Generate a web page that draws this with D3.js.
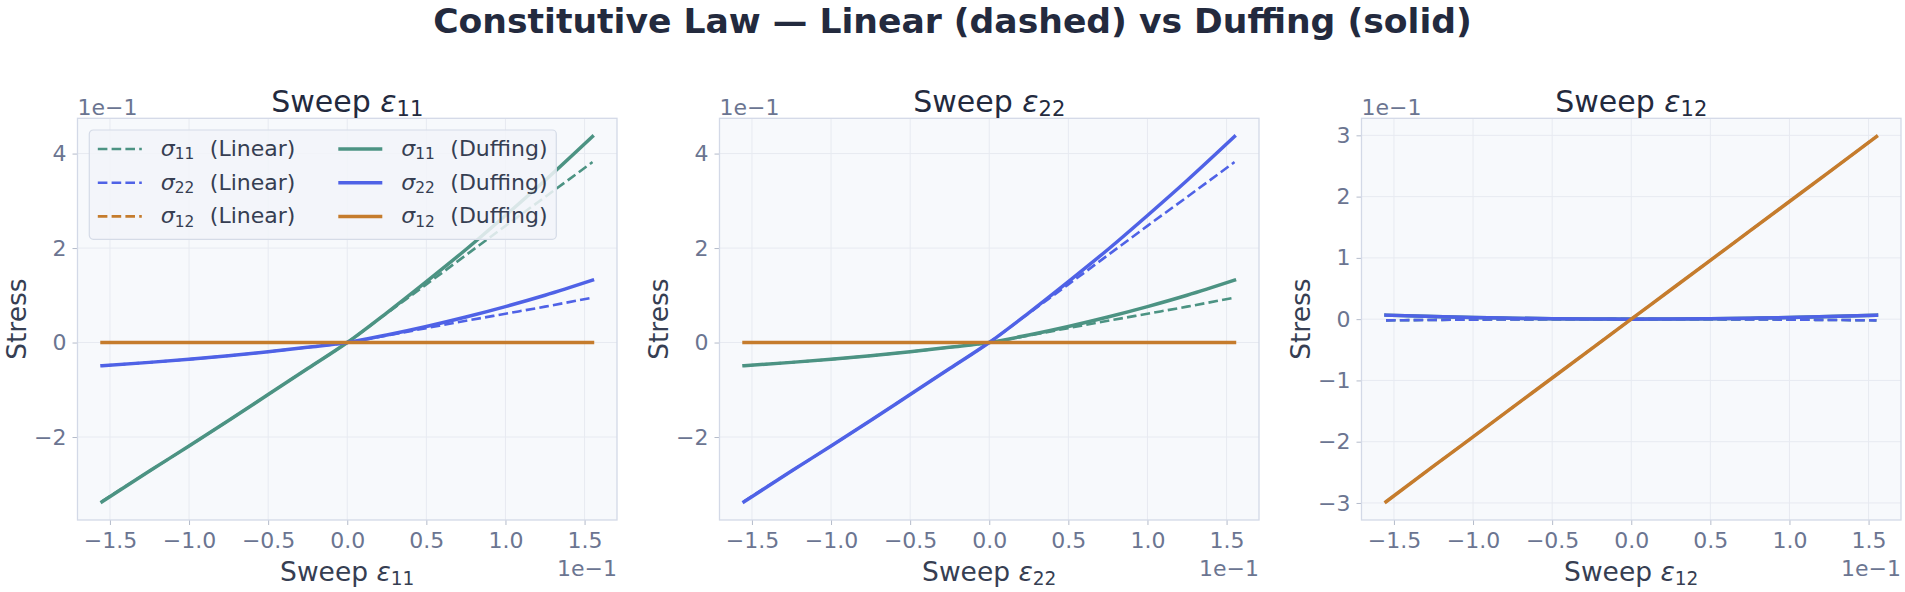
<!DOCTYPE html>
<html>
<head>
<meta charset="utf-8">
<script src="https://cdn.jsdelivr.net/npm/d3@7"></script>
<style>
    body { margin: 0; background: #ffffff; }
    svg text { font-family: "DejaVu Sans", sans-serif; }
</style>
</head>
<body>
<div id="chart"></div>
<script>
// strain samples along each sweep (x1e-1)
const strainPts = [-1.55, -1.25, -1.0, -0.75, -0.5, -0.25, 0, 0.25, 0.5, 0.75, 1.0, 1.25, 1.55];

// sweep eps11 : stresses (x1e-1)
const e11_s11Lin = [-3.36, -2.72, -2.19, -1.65, -1.10, -0.55, 0, 0.62, 1.23, 1.85, 2.47, 3.08, 3.82];
const e11_s22Lin = [-0.49, -0.42, -0.355, -0.28, -0.195, -0.10, 0, 0.15, 0.305, 0.46, 0.61, 0.76, 0.95];
const e11_s12Lin = [0, 0, 0, 0, 0, 0, 0, 0, 0, 0, 0, 0, 0];
const e11_s11Duf = [-3.37, -2.72, -2.19, -1.65, -1.10, -0.55, 0, 0.63, 1.29, 1.97, 2.69, 3.43, 4.36];
const e11_s22Duf = [-0.49, -0.42, -0.355, -0.28, -0.195, -0.10, 0, 0.16, 0.34, 0.54, 0.76, 1.00, 1.32];
const e11_s12Duf = [0, 0, 0, 0, 0, 0, 0, 0, 0, 0, 0, 0, 0];

// sweep eps22
const e22_s11Lin = [-0.49, -0.42, -0.355, -0.28, -0.195, -0.10, 0, 0.15, 0.305, 0.46, 0.61, 0.76, 0.95];
const e22_s22Lin = [-3.36, -2.72, -2.19, -1.65, -1.10, -0.55, 0, 0.62, 1.23, 1.85, 2.47, 3.08, 3.82];
const e22_s12Lin = [0, 0, 0, 0, 0, 0, 0, 0, 0, 0, 0, 0, 0];
const e22_s11Duf = [-0.49, -0.42, -0.355, -0.28, -0.195, -0.10, 0, 0.16, 0.34, 0.54, 0.76, 1.00, 1.32];
const e22_s22Duf = [-3.37, -2.72, -2.19, -1.65, -1.10, -0.55, 0, 0.63, 1.29, 1.97, 2.69, 3.43, 4.36];
const e22_s12Duf = [0, 0, 0, 0, 0, 0, 0, 0, 0, 0, 0, 0, 0];

// sweep eps12
const e12_s11Lin = [-0.02, -0.013, -0.008, -0.005, -0.002, -0.001, 0, -0.001, -0.002, -0.005, -0.008, -0.013, -0.02];
const e12_s22Lin = [-0.02, -0.013, -0.008, -0.005, -0.002, -0.001, 0, -0.001, -0.002, -0.005, -0.008, -0.013, -0.02];
const e12_s12Lin = [-2.98, -2.40, -1.92, -1.44, -0.96, -0.48, 0, 0.48, 0.96, 1.44, 1.92, 2.40, 2.98];
const e12_s11Duf = [0.065, 0.042, 0.027, 0.015, 0.007, 0.002, 0, 0.002, 0.007, 0.015, 0.027, 0.042, 0.065];
const e12_s22Duf = [0.065, 0.042, 0.027, 0.015, 0.007, 0.002, 0, 0.002, 0.007, 0.015, 0.027, 0.042, 0.065];
const e12_s12Duf = [-2.98, -2.40, -1.92, -1.44, -0.96, -0.48, 0, 0.48, 0.96, 1.44, 1.92, 2.40, 2.98];

// ticks
const xTicks = [-1.5, -1.0, -0.5, 0.0, 0.5, 1.0, 1.5];
const yTicksNormal = [-2, 0, 2, 4];
const yTicksShear = [-3, -2, -1, 0, 1, 2, 3];

// series names / sweep names
const comps = ['11', '22', '12'];
const models = ['Linear', 'Duffing'];
const sweeps = ['11', '22', '12'];

const colors = {'11': '#4c9383', '22': '#4f62e6', '12': '#c57c2d'};

const W = 1905, H = 592;
const plotTop = 118.3, plotBottom = 520, plotW = 539.5;
const panelLefts = [77.5, 719.5, 1361.5];

const lwSolid = 3.5, lwDash = 2.6;
const dashPat = '9.6,4.2';

const svg = d3.select('#chart').append('svg')
    .attr('width', W)
    .attr('height', H);

// main title
svg.append('text')
    .attr('x', W / 2)
    .attr('y', 33)
    .attr('text-anchor', 'middle')
    .style('font-size', '34.6px')
    .style('font-weight', 'bold')
    .style('fill', '#232a3e')
    .text('Constitutive Law \u2014 Linear (dashed) vs Duffing (solid)');

// text with italic symbol + subscript
function mathText(sel, before, sym, sub, size) {
    if (before) sel.append('tspan').text(before);
    sel.append('tspan').style('font-style', 'italic').text(sym);
    sel.append('tspan')
        .style('font-size', (size * 0.7) + 'px')
        .attr('dy', size * 0.15)
        .text(sub);
}

class SweepPanel {
    constructor(parent, left, sweep, series, yTicks, showLegend) {
        this.parent = parent;
        this.left = left;
        this.sweep = sweep;
        this.series = series; // [{comp, model, values}]
        this.yTicks = yTicks;
        this.showLegend = showLegend;

        this.initVis();
    }

    initVis() {
        let vis = this;

        vis.width = plotW;
        vis.height = plotBottom - plotTop;

        vis.g = vis.parent.append('g')
            .attr('transform', `translate(${vis.left}, ${plotTop})`);

        // scales with 5% padding like matplotlib
        let xExt = d3.extent(strainPts);
        let xPad = (xExt[1] - xExt[0]) * 0.05;
        vis.x = d3.scaleLinear()
            .domain([xExt[0] - xPad, xExt[1] + xPad])
            .range([0, vis.width]);

        let yExt = d3.extent(vis.series.flatMap(s => s.values));
        let yPad = (yExt[1] - yExt[0]) * 0.05;
        vis.y = d3.scaleLinear()
            .domain([yExt[0] - yPad, yExt[1] + yPad])
            .range([vis.height, 0]);

        // background
        vis.g.append('rect')
            .attr('width', vis.width)
            .attr('height', vis.height)
            .style('fill', '#f7f9fc');

        // grid
        vis.g.selectAll('.vgrid')
            .data(xTicks)
            .enter().append('line')
            .attr('class', 'vgrid')
            .attr('x1', d => vis.x(d)).attr('x2', d => vis.x(d))
            .attr('y1', 0).attr('y2', vis.height)
            .style('stroke', '#e7eaf1')
            .style('stroke-width', 1);

        vis.g.selectAll('.hgrid')
            .data(vis.yTicks)
            .enter().append('line')
            .attr('class', 'hgrid')
            .attr('x1', 0).attr('x2', vis.width)
            .attr('y1', d => vis.y(d)).attr('y2', d => vis.y(d))
            .style('stroke', '#e7eaf1')
            .style('stroke-width', 1);

        // axes
        vis.xAxis = d3.axisBottom(vis.x)
            .tickValues(xTicks)
            .tickSize(5)
            .tickPadding(7.5)
            .tickFormat(d3.format('.1f'));

        vis.yAxis = d3.axisLeft(vis.y)
            .tickValues(vis.yTicks)
            .tickSize(5)
            .tickPadding(6)
            .tickFormat(d3.format('d'));

        vis.g.append('g')
            .attr('class', 'x-axis')
            .attr('transform', `translate(0, ${vis.height})`)
            .call(vis.xAxis);

        vis.g.append('g')
            .attr('class', 'y-axis')
            .call(vis.yAxis);

        vis.g.selectAll('.x-axis, .y-axis').select('.domain').remove();
        vis.g.selectAll('.tick line').style('stroke', '#b4bbca');
        vis.g.selectAll('.tick text')
            .style('font-size', '22px')
            .style('font-family', '"DejaVu Sans", sans-serif')
            .style('fill', '#6b7591');

        // lines layer
        vis.lineG = vis.g.append('g');

        // spines
        vis.g.append('rect')
            .attr('width', vis.width)
            .attr('height', vis.height)
            .style('fill', 'none')
            .style('stroke', '#d3d9e7')
            .style('stroke-width', 1.3);

        // subplot title
        let title = vis.g.append('text')
            .attr('x', vis.width / 2)
            .attr('y', 111.7 - plotTop)
            .attr('text-anchor', 'middle')
            .style('font-size', '30px')
            .style('fill', '#232a3e');
        mathText(title, 'Sweep ', '\u03b5', vis.sweep, 30);

        // x label
        let xl = vis.g.append('text')
            .attr('x', vis.width / 2)
            .attr('y', 581 - plotTop)
            .attr('text-anchor', 'middle')
            .style('font-size', '26.5px')
            .style('fill', '#363e52');
        mathText(xl, 'Sweep ', '\u03b5', vis.sweep, 26.5);

        // y label
        vis.g.append('text')
            .attr('transform', `translate(-51.5, ${vis.height / 2}) rotate(-90)`)
            .attr('text-anchor', 'middle')
            .style('font-size', '26.5px')
            .style('fill', '#363e52')
            .text('Stress');

        // offset texts
        vis.g.append('text')
            .attr('x', 0)
            .attr('y', 115 - plotTop)
            .style('font-size', '22px')
            .style('fill', '#6b7591')
            .text('1e\u22121');

        vis.g.append('text')
            .attr('x', vis.width)
            .attr('y', 576 - plotTop)
            .attr('text-anchor', 'end')
            .style('font-size', '22px')
            .style('fill', '#6b7591')
            .text('1e\u22121');

        vis.updateVis();
    }

    updateVis() {
        let vis = this;

        let line = d3.line()
            .x((d, i) => vis.x(strainPts[i]))
            .y(d => vis.y(d))
            .curve(d3.curveMonotoneX);

        vis.lineG.selectAll('.stress-line')
            .data(vis.series)
            .enter().append('path')
            .attr('class', 'stress-line')
            .attr('d', d => line(d.values))
            .style('fill', 'none')
            .style('stroke', d => colors[d.comp])
            .style('stroke-width', d => d.model == 'Linear' ? lwDash : lwSolid)
            .style('stroke-dasharray', d => d.model == 'Linear' ? dashPat : null)
            .style('stroke-linecap', d => d.model == 'Linear' ? 'butt' : 'square');

        if (vis.showLegend) vis.drawLegend();
    }

    drawLegend() {
        let vis = this;

        let lg = vis.g.append('g')
            .attr('transform', `translate(${89.3 - vis.left}, ${130 - plotTop})`);

        lg.append('rect')
            .attr('width', 467)
            .attr('height', 109.3)
            .attr('rx', 4)
            .style('fill', '#f2f5f9')
            .style('fill-opacity', 0.85)
            .style('stroke', '#d5dbe7')
            .style('stroke-width', 1.2);

        // column-major, linear first
        vis.series.forEach((s, i) => {
            let col = Math.floor(i / 3), row = i % 3;
            let hx = 8.5 + col * 240.5;
            let cy = 19 + row * 33.7;

            lg.append('line')
                .attr('x1', hx).attr('x2', hx + 44)
                .attr('y1', cy).attr('y2', cy)
                .style('stroke', colors[s.comp])
                .style('stroke-width', s.model == 'Linear' ? lwDash : lwSolid)
                .style('stroke-dasharray', s.model == 'Linear' ? dashPat : null);

            let t = lg.append('text')
                .attr('x', hx + 63)
                .attr('y', cy + 7)
                .style('font-size', '22px')
                .style('fill', '#363e52');
            mathText(t, null, '\u03c3', s.comp, 22);

            lg.append('text')
                .attr('x', hx + 63 + 49)
                .attr('y', cy + 7)
                .style('font-size', '22px')
                .style('fill', '#363e52')
                .text(`(${s.model})`);
        });
    }
}

// build series lists per sweep
const sweepData = {
    '11': [e11_s11Lin, e11_s22Lin, e11_s12Lin, e11_s11Duf, e11_s22Duf, e11_s12Duf],
    '22': [e22_s11Lin, e22_s22Lin, e22_s12Lin, e22_s11Duf, e22_s22Duf, e22_s12Duf],
    '12': [e12_s11Lin, e12_s22Lin, e12_s12Lin, e12_s11Duf, e12_s22Duf, e12_s12Duf]
};

sweeps.forEach((sw, k) => {
    let series = [];
    models.forEach((m, mi) => {
        comps.forEach((c, ci) => {
            series.push({comp: c, model: m, values: sweepData[sw][mi * 3 + ci]});
        });
    });
    new SweepPanel(svg, panelLefts[k], sw, series, sw == '12' ? yTicksShear : yTicksNormal, k == 0);
});
</script>
</body>
</html>
